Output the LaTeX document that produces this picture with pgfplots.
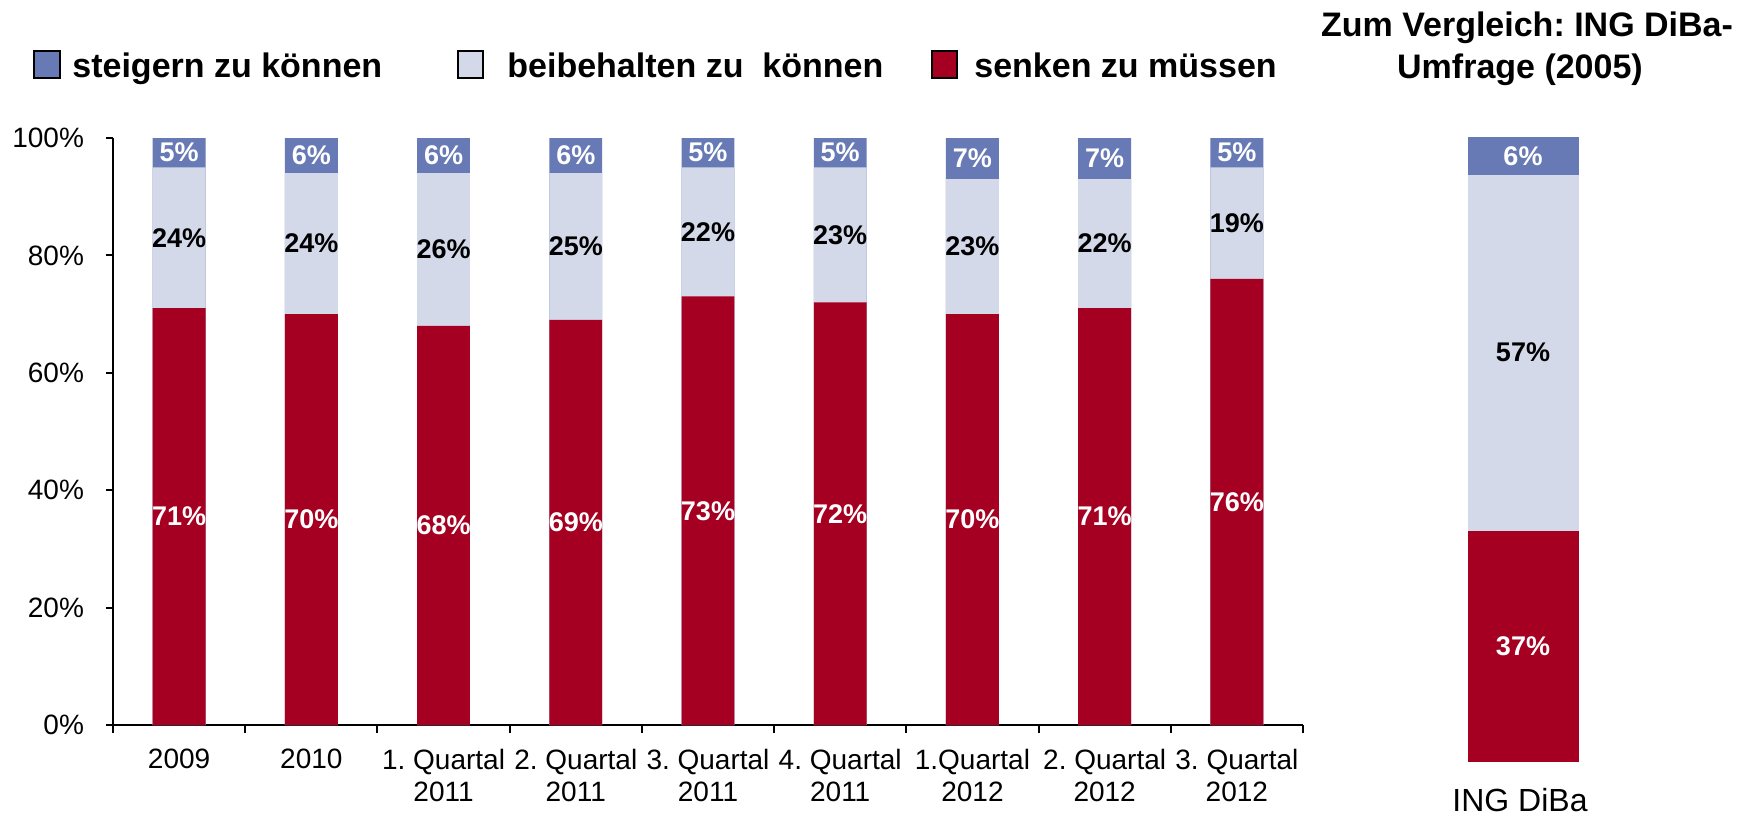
\documentclass[border=0pt]{standalone}
\usepackage{pgfplots}
\pgfplotsset{compat=1.18}
\usepackage{pgfplotstable}
\usepackage{fontspec}
\setmainfont{Liberation Sans}
\frenchspacing
\definecolor{cblue}{HTML}{687AB5}
\definecolor{clight}{HTML}{D3D9E9}
\definecolor{cred}{HTML}{A50021}

\pgfplotstableread{
x red light blue
0 71 24 5
1 70 24 6
2 68 26 6
3 69 25 6
4 73 22 5
5 72 23 5
6 70 23 7
7 71 22 7
8 76 19 5
}\maindata

\pgfplotstableread{
x red light blue
0 37 57 6
}\ingdata

\pgfplotsset{
  barlabel/.style={only marks, mark=*, mark size=0pt, mark options={draw=none,fill=none},
    /pgf/number format/assume math mode=true,
    nodes near coords={\pgfmathprintnumber{\pgfplotspointmeta}\%},
    nodes near coords align=center,
    every node near coord/.append style={text=#1, inner sep=0pt,
      font=\bfseries\fontsize{13.5}{16}\selectfont}},
}

\begin{document}
\begin{tikzpicture}[x=1pt,y=1pt]
\path (0,0) rectangle (875.5,-409.5);

% legend
\draw[fill=cblue, line width=0.8pt] (17,-25.5) rectangle (30,-39);
\node[anchor=base west, inner sep=0pt, font=\bfseries\fontsize{17}{20}\selectfont] at (36,-38.5) {steigern zu können};
\draw[fill=clight, line width=0.8pt] (229,-25.5) rectangle (241.5,-39);
\node[anchor=base west, inner sep=0pt, font=\bfseries\fontsize{17}{20}\selectfont] at (253.5,-38.5) {beibehalten zu~ können};
\draw[fill=cred, line width=0.8pt] (466,-25.5) rectangle (478.5,-39);
\node[anchor=base west, inner sep=0pt, font=\bfseries\fontsize{17}{20}\selectfont] at (487,-38.5) {senken zu müssen};

% title right
\node[anchor=base, inner sep=0pt, font=\bfseries\fontsize{17}{20}\selectfont] at (763.5,-18) {Zum Vergleich: ING DiBa-};
\node[anchor=base, inner sep=0pt, font=\bfseries\fontsize{17}{20}\selectfont] at (760,-39) {Umfrage (2005)};

\begin{axis}[
  at={(56.5pt,-362.5pt)}, anchor=south west,
  scale only axis, width=595pt, height=293.5pt,
  xmin=-0.5, xmax=8.5, ymin=0, ymax=100,
  axis x line*=bottom, axis y line*=left,
  axis line style={black, line width=1pt, -},
  xtick pos=bottom, ytick pos=left,
  ytick={0,20,...,100}, yticklabels={0\%,20\%,40\%,60\%,80\%,100\%},
  xtick={0,...,8},
  xticklabels={2009,2010,1.\ Quartal\\2011,2.\ Quartal\\2011,3.\ Quartal\\2011,4.\ Quartal\\2011,1.Quartal\\2012,2.\ Quartal\\2012,3.\ Quartal\\2012},
  minor xtick={-0.5,0.5,...,8.5},
  tick align=outside, major tick length=3.5pt, minor tick length=4pt,
  tick style={black, line width=1pt},
  major x tick style={draw=none},
  tick label style={font=\fontsize{14}{16}\selectfont},
  xticklabel style={align=center, yshift=-5pt},
  yticklabel style={xshift=-7.5pt},
  clip=false,
]
\addplot[ybar, bar width=0.4, bar shift=0pt, fill=cblue, draw=none]
  table[x=x, y expr=\thisrow{red}+\thisrow{light}+\thisrow{blue}] {\maindata};
\addplot[ybar, bar width=0.4, bar shift=0pt, fill=clight, draw=none]
  table[x=x, y expr=\thisrow{red}+\thisrow{light}] {\maindata};
\addplot[ybar, bar width=0.4, bar shift=0pt, fill=cred, draw=none]
  table[x=x, y=red] {\maindata};
\addplot[barlabel=white, point meta=\thisrow{red}]
  table[x=x, y expr=\thisrow{red}/2] {\maindata};
\addplot[barlabel=black, point meta=\thisrow{light}]
  table[x=x, y expr=\thisrow{red}+\thisrow{light}/2] {\maindata};
\addplot[barlabel=white, point meta=\thisrow{blue}]
  table[x=x, y expr=\thisrow{red}+\thisrow{light}+\thisrow{blue}/2] {\maindata};
\end{axis}

\begin{axis}[
  at={(706pt,-381pt)}, anchor=south west,
  scale only axis, width=111pt, height=312.5pt,
  xmin=-0.5, xmax=0.5, ymin=0, ymax=100,
  hide axis, clip=false,
]
\addplot[ybar, bar width=0.5, bar shift=0pt, fill=cblue, draw=none]
  table[x=x, y expr=\thisrow{red}+\thisrow{light}+\thisrow{blue}] {\ingdata};
\addplot[ybar, bar width=0.5, bar shift=0pt, fill=clight, draw=none]
  table[x=x, y expr=\thisrow{red}+\thisrow{light}] {\ingdata};
\addplot[ybar, bar width=0.5, bar shift=0pt, fill=cred, draw=none]
  table[x=x, y=red] {\ingdata};
\addplot[barlabel=white, point meta=\thisrow{red}]
  table[x=x, y expr=\thisrow{red}/2] {\ingdata};
\addplot[barlabel=black, point meta=\thisrow{light}]
  table[x=x, y expr=\thisrow{red}+\thisrow{light}/2] {\ingdata};
\addplot[barlabel=white, point meta=\thisrow{blue}]
  table[x=x, y expr=\thisrow{red}+\thisrow{light}+\thisrow{blue}/2] {\ingdata};
\node[anchor=base, inner sep=0pt, font=\fontsize{16}{19}\selectfont, xshift=-1.5pt, yshift=-24.5pt] at (rel axis cs:0.5,0) {ING DiBa};
\end{axis}
\end{tikzpicture}
\end{document}
